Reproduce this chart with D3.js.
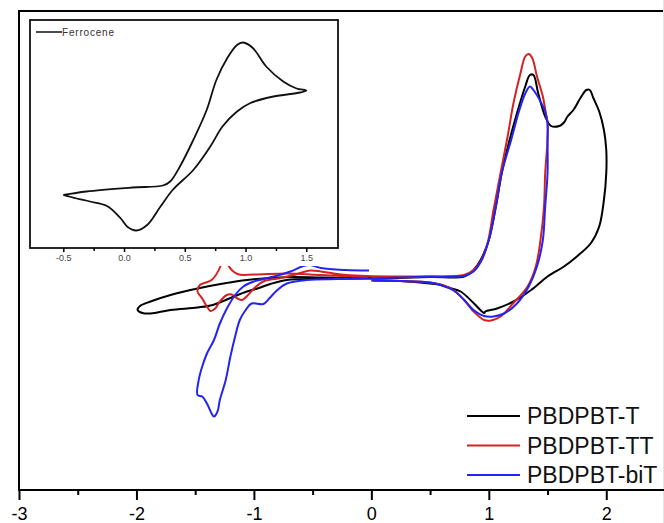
<html>
<head>
<script src="https://cdn.jsdelivr.net/npm/d3@7"></script>
<style>
  body { margin: 0; background: #fff; }
  svg { display: block; font-family: Arial, "Liberation Sans", sans-serif; }
</style>
</head>
<body>
<svg id="chart" width="664" height="523"></svg>
<script>
// main axis ticks
var xTicks = [-3, -2, -1, 0, 1, 2];
var xMinor = [-2.5, -1.5, -0.5, 0.5, 1.5];
var names = ['PBDPBT-T', 'PBDPBT-TT', 'PBDPBT-biT'];
var colors = ['#000000', '#d42222', '#2424f2'];

// PBDPBT-T (potential V, current a.u.)
var tE = [0.00, -0.43, -0.69, -1.06, -1.26, -1.48, -1.71, -1.88, -1.97, -1.99, -1.95, -1.88, -1.71, -1.48, -1.35, -1.20, -1.06, -0.97, -0.86, -0.72, -0.43, 0.00,
  0.50, 0.79, 0.87, 0.93, 1.00, 1.06, 1.11, 1.17, 1.24, 1.31, 1.35, 1.38, 1.42, 1.48, 1.53, 1.60, 1.64, 1.67, 1.72, 1.78, 1.83, 1.86, 1.89, 1.94, 1.98, 2.00,
  2.00, 1.98, 1.94, 1.87, 1.75, 1.64, 1.50, 1.36, 1.21, 1.07, 0.97, 0.96, 0.87, 0.76, 0.67, 0.59, 0.50, 0.25, 0.00];
var tI = [0.00, 0.01, 0.02, -0.04, -0.11, -0.21, -0.34, -0.47, -0.56, -0.64, -0.70, -0.71, -0.64, -0.59, -0.54, -0.40, -0.27, -0.21, -0.12, -0.04, -0.02, -0.01,
  0.02, 0.03, 0.16, 0.36, 0.76, 1.43, 2.10, 2.70, 3.30, 3.83, 4.06, 4.06, 3.70, 3.23, 3.04, 3.04, 3.11, 3.23, 3.36, 3.60, 3.76, 3.76, 3.60, 3.33, 2.96, 2.56,
  2.10, 1.56, 1.03, 0.70, 0.43, 0.23, 0.03, -0.24, -0.47, -0.61, -0.67, -0.70, -0.50, -0.27, -0.20, -0.14, -0.11, -0.06, -0.05];

// PBDPBT-TT
var ttE = [-0.03, -0.15, -0.43, -0.72, -1.00, -1.14, -1.22, -1.25, -1.28, -1.36, -1.46, -1.48, -1.44, -1.40, -1.37, -1.33, -1.29, -1.23, -1.19, -1.14, -1.10, -1.05, -1.00, -0.92, -0.80, -0.66, -0.52, -0.43, -0.32, -0.21, -0.04,
  0.25, 0.50, 0.79, 0.87, 0.93, 0.99, 1.04, 1.10, 1.16, 1.21, 1.27, 1.31, 1.34, 1.37, 1.41, 1.46, 1.49, 1.50,
  1.50, 1.48, 1.47, 1.44, 1.40, 1.33, 1.21, 1.10, 1.02, 0.96, 0.87, 0.79, 0.70, 0.59, 0.50, 0.25, 0.00];
var ttI = [0.02, 0.03, 0.06, 0.09, 0.07, 0.08, 0.26, 0.60, 0.26, -0.04, -0.14, -0.27, -0.41, -0.57, -0.66, -0.61, -0.47, -0.34, -0.33, -0.41, -0.44, -0.34, -0.21, -0.07, -0.01, 0.06, 0.15, 0.13, 0.09, 0.06, 0.04,
  0.03, 0.03, 0.06, 0.16, 0.33, 0.70, 1.36, 2.10, 2.83, 3.50, 4.10, 4.43, 4.48, 4.40, 4.03, 3.63, 3.23, 3.10,
  2.76, 2.10, 1.43, 0.76, 0.23, -0.17, -0.50, -0.77, -0.85, -0.84, -0.67, -0.44, -0.24, -0.13, -0.09, -0.06, -0.04];

// PBDPBT-biT
var bitE = [-0.02, -0.22, -0.43, -0.52, -0.58, -0.69, -0.83, -1.00, -1.09, -1.16, -1.23, -1.29, -1.34, -1.40, -1.44, -1.47, -1.48, -1.44, -1.40, -1.36, -1.34, -1.31, -1.29, -1.24, -1.20, -1.16, -1.12, -1.07, -1.02, -0.92, -0.87, -0.80, -0.72, -0.55, -0.29, -0.01,
  0.25, 0.50, 0.79, 0.87, 0.94, 1.00, 1.06, 1.11, 1.19, 1.26, 1.31, 1.35, 1.38, 1.44, 1.48, 1.50,
  1.50, 1.50, 1.48, 1.46, 1.41, 1.34, 1.24, 1.13, 1.04, 0.96, 0.87, 0.79, 0.70, 0.59, 0.50, 0.25, 0.01];
var bitI = [0.15, 0.16, 0.20, 0.26, 0.24, 0.13, 0.03, -0.07, -0.17, -0.34, -0.61, -0.91, -1.24, -1.51, -1.77, -2.04, -2.34, -2.37, -2.51, -2.71, -2.77, -2.67, -2.44, -2.04, -1.57, -1.17, -0.84, -0.64, -0.51, -0.52, -0.41, -0.24, -0.11, -0.04, -0.02, -0.01,
  0.01, 0.03, 0.04, 0.13, 0.36, 0.76, 1.43, 2.10, 2.76, 3.36, 3.69, 3.83, 3.76, 3.53, 3.33, 3.10,
  2.76, 2.10, 1.43, 0.76, 0.23, -0.17, -0.51, -0.71, -0.77, -0.76, -0.64, -0.44, -0.25, -0.14, -0.09, -0.06, -0.05];

// inset: ferrocene
var fcE = [-0.50, -0.31, 0.07, 0.32, 0.38, 0.46, 0.57, 0.68, 0.76, 0.85, 0.93, 0.98, 1.06, 1.17, 1.31, 1.42, 1.50,
  1.45, 1.23, 1.04, 0.93, 0.81, 0.71, 0.57, 0.40, 0.30, 0.19, 0.10, 0.03, -0.03, -0.14, -0.28, -0.39, -0.50];
var fcI = [0.00, 0.07, 0.15, 0.19, 0.27, 0.57, 1.10, 1.70, 2.30, 2.74, 3.00, 3.05, 2.94, 2.57, 2.27, 2.13, 2.09,
  2.05, 1.97, 1.84, 1.67, 1.37, 0.97, 0.50, 0.10, -0.23, -0.60, -0.71, -0.64, -0.46, -0.22, -0.13, -0.07, 0.00];
var insetTicks = [-0.5, 0, 0.5, 1, 1.5];
var insetMinor = [-0.25, 0.25, 0.75, 1.25];

var svg = d3.select('#chart');

var x = d3.scaleLinear().domain([-3, 2.5]).range([19, 665]);
var y = d3.scaleLinear().domain([-4.24, 5.34]).range([490, 11]);

function zip(a, b) {
  return a.map(function (v, i) { return [v, b[i]]; });
}

var line = d3.line()
  .x(function (d) { return x(d[0]); })
  .y(function (d) { return y(d[1]); })
  .curve(d3.curveCatmullRom.alpha(0.5));

var series = [zip(tE, tI), zip(ttE, ttI), zip(bitE, bitI)];

series.forEach(function (s, i) {
  svg.append('path')
    .datum(s)
    .attr('fill', 'none')
    .attr('stroke', colors[i])
    .attr('stroke-width', 2)
    .attr('stroke-linejoin', 'round')
    .attr('d', line);
});

// frame
svg.append('line').attr('x1', 19).attr('x2', 19).attr('y1', 11).attr('y2', 490)
  .attr('stroke', '#000').attr('stroke-width', 2);
svg.append('line').attr('x1', 18).attr('x2', 664).attr('y1', 11).attr('y2', 11)
  .attr('stroke', '#000').attr('stroke-width', 2);
svg.append('line').attr('x1', 663.5).attr('x2', 663.5).attr('y1', 0).attr('y2', 523)
  .attr('stroke', '#e4e4e4').attr('stroke-width', 1);

// bottom axis
var gx = svg.append('g').attr('transform', 'translate(0,490)')
  .call(d3.axisBottom(x).tickValues(xTicks).tickSize(10).tickPadding(7).tickFormat(d3.format('d')));
gx.select('.domain').attr('stroke-width', 2).attr('d', 'M18,0H664');
gx.selectAll('.tick line').attr('stroke-width', 2);
gx.selectAll('text').attr('font-size', 18).attr('font-family', 'Arial, "Liberation Sans", sans-serif')
  .text(function (d) { return d < 0 ? '-' + Math.abs(d) : d; });

var gm = svg.append('g').attr('transform', 'translate(0,490)')
  .call(d3.axisBottom(x).tickValues(xMinor).tickSize(5).tickFormat(''));
gm.select('.domain').remove();
gm.selectAll('.tick line').attr('stroke-width', 2);

// legend
var lg = svg.append('g');
names.forEach(function (n, i) {
  var yy = 416 + i * 29.5;
  lg.append('line').attr('x1', 467).attr('x2', 520).attr('y1', yy).attr('y2', yy)
    .attr('stroke', colors[i]).attr('stroke-width', 2);
  lg.append('text').attr('x', 527).attr('y', yy).attr('dy', '0.36em')
    .attr('font-size', 23).attr('fill', '#111').text(n);
});

// inset
var ix = d3.scaleLinear().domain([-0.774, 1.761]).range([30, 338]);
var iy = d3.scaleLinear().domain([-1.06, 3.5]).range([248, 20]);

var inset = svg.append('g');
inset.append('rect').attr('x', 22).attr('y', 13).attr('width', 322).attr('height', 253).attr('fill', '#fff');

var iline = d3.line()
  .x(function (d) { return ix(d[0]); })
  .y(function (d) { return iy(d[1]); })
  .curve(d3.curveCatmullRom.alpha(0.5));

inset.append('path')
  .datum(zip(fcE, fcI))
  .attr('fill', 'none')
  .attr('stroke', '#111')
  .attr('stroke-width', 1.8)
  .attr('d', iline);

inset.append('rect').attr('x', 30).attr('y', 20).attr('width', 308).attr('height', 228)
  .attr('fill', 'none').attr('stroke', '#111').attr('stroke-width', 1.8);

var ig = inset.append('g').attr('transform', 'translate(0,248)')
  .call(d3.axisBottom(ix).tickValues(insetTicks).tickSize(4).tickPadding(3).tickFormat(d3.format('.1f')));
ig.select('.domain').remove();
ig.selectAll('.tick line').attr('stroke-width', 1.5);
ig.selectAll('text').attr('font-size', 9).attr('fill', '#444')
  .text(function (d) { return d < 0 ? '-' + Math.abs(d).toFixed(1) : d.toFixed(1); });

var igm = inset.append('g').attr('transform', 'translate(0,248)')
  .call(d3.axisBottom(ix).tickValues(insetMinor).tickSize(3).tickFormat(''));
igm.select('.domain').remove();
igm.selectAll('.tick line').attr('stroke-width', 1.5);

inset.append('line').attr('x1', 36).attr('x2', 62).attr('y1', 32).attr('y2', 32)
  .attr('stroke', '#111').attr('stroke-width', 1.5);
inset.append('text').attr('x', 62).attr('y', 32).attr('dy', '0.36em')
  .attr('font-size', 10).attr('fill', '#333').attr('textLength', 52).text('Ferrocene');
</script>
</body>
</html>
